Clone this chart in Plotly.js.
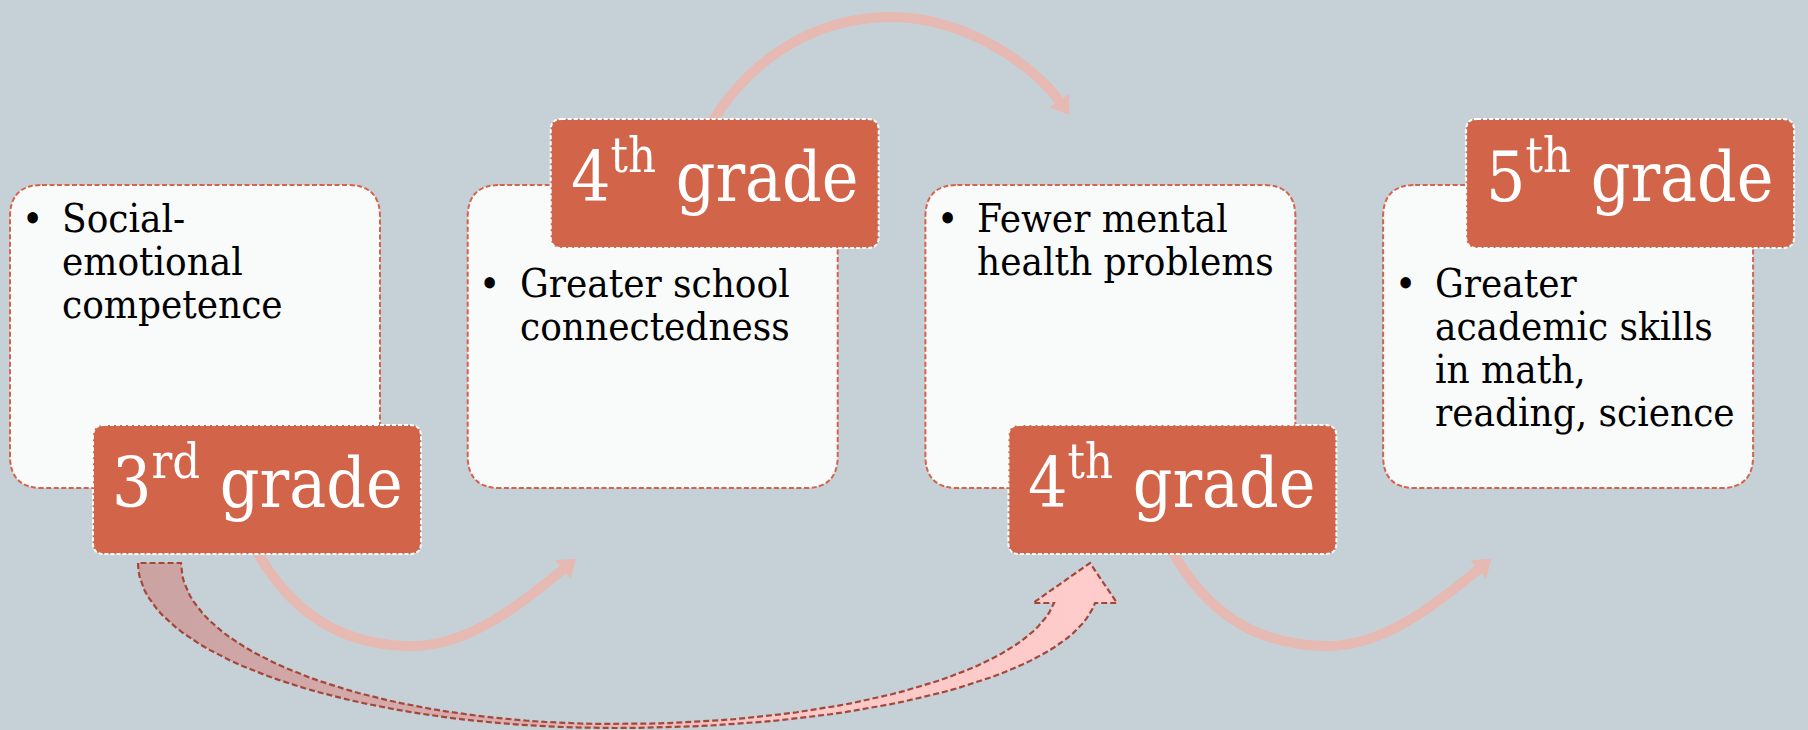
<!DOCTYPE html>
<html><head><meta charset="utf-8">
<script src="https://cdn.plot.ly/plotly-3.0.1.min.js"></script>
<style>html,body{margin:0;padding:0;background:#C5D1D7;overflow:hidden;}</style>
</head><body><div id="chart" style="width:1808px;height:730px;"></div>
<script>
// ---- content ----
const grades = ['3<sup>rd</sup> grade', '4<sup>th</sup> grade', '4<sup>th</sup> grade', '5<sup>th</sup> grade'];
const outcomes = [
  ['Social-', 'emotional', 'competence'],
  ['Greater school', 'connectedness'],
  ['Fewer mental', 'health problems'],
  ['Greater', 'academic skills', 'in math,', 'reading, science']
];
const labelOnTop = [false, true, false, true];

// ---- styling / geometry ----
const W = 1808, H = 730;
const BG = '#C5D1D7';
const BOX_X0 = 10, BOX_STEP = 457.7, BOX_W = 370, BOX_TOP = 185, BOX_BOT = 488, BOX_R = 32;
const LBL_DX = 83, LBL_W = 328, LBL_H = 129, LBL_R = 11;
const LBL_TOP_Y0 = 119, LBL_BOT_Y0 = 425;
const BODY_FS = 40, LBL_FS = 69, LINE_STEP = 43;
const FONT = 'DejaVu Serif Condensed, DejaVu Serif, serif';
const ARC_COLOR = '#E6B9B2';

function rr(x0, y0, x1, y1, r) {
  return `M${x0 + r},${y0} H${x1 - r} Q${x1},${y0} ${x1},${y0 + r} V${y1 - r} Q${x1},${y1} ${x1 - r},${y1} ` +
         `H${x0 + r} Q${x0},${y1} ${x0},${y1 - r} V${y0 + r} Q${x0},${y0} ${x0 + r},${y0} Z`;
}
function cubicPts(p0, p1, p2, p3, n) {
  const pts = [];
  for (let i = 0; i <= n; i++) {
    const t = i / n, u = 1 - t;
    pts.push([u*u*u*p0[0] + 3*u*u*t*p1[0] + 3*u*t*t*p2[0] + t*t*t*p3[0],
              u*u*u*p0[1] + 3*u*u*t*p1[1] + 3*u*t*t*p2[1] + t*t*t*p3[1]]);
  }
  return pts;
}
function arcShape(segs, ox, oy) {
  let d = `M${ox + segs[0][0]},${oy + segs[0][1]}`;
  for (let i = 1; i < segs.length; i += 3) {
    d += ` C${ox + segs[i][0]},${oy + segs[i][1]} ${ox + segs[i+1][0]},${oy + segs[i+1][1]} ${ox + segs[i+2][0]},${oy + segs[i+2][1]}`;
  }
  return d;
}
function arrowHead(from, to, ox, oy, len, half) {
  const dx = to[0] - from[0], dy = to[1] - from[1], L = Math.hypot(dx, dy);
  const ux = dx / L, uy = dy / L, px = -uy, py = ux;
  const ex = ox + to[0], ey = oy + to[1];
  const tip = [ex + ux * len, ey + uy * len];
  const a = [ex + px * half - ux * 4, ey + py * half - uy * 4];
  const b = [ex - px * half - ux * 4, ey - py * half - uy * 4];
  return `M${a[0]},${a[1]} L${tip[0]},${tip[1]} L${b[0]},${b[1]} Z`;
}

const shapes = [];
const annotations = [];

// light curved connector arrows (drawn first, below boxes)
const lowArc = [[-2, -6], [38, 67], [93, 92], [156, 92], [213, 92], [268, 47], [309, 13]];
const topArc = [[-10, 16], [30, -59], [100, -102], [176, -102], [250, -102], [320, -54], [347, -15]];
for (let i = 0; i < grades.length - 1; i++) {
  const lx = BOX_X0 + i * BOX_STEP + LBL_DX + LBL_W / 2;
  const segs = labelOnTop[i] ? topArc : lowArc;
  const oy = labelOnTop[i] ? LBL_TOP_Y0 : LBL_BOT_Y0 + LBL_H;
  shapes.push({type: 'path', path: arcShape(segs, lx, oy), line: {color: ARC_COLOR, width: 10}, layer: 'above'});
  shapes.push({type: 'path', path: arrowHead(segs[5], segs[6], lx, oy, 13, 12),
               fillcolor: ARC_COLOR, line: {width: 0}, layer: 'above'});
}

// boxes + labels
for (let i = 0; i < grades.length; i++) {
  const x0 = BOX_X0 + i * BOX_STEP, x1 = x0 + BOX_W;
  shapes.push({type: 'path', path: rr(x0, BOX_TOP, x1, BOX_BOT, BOX_R), fillcolor: '#F9FAFA',
               line: {color: '#D4634B', width: 2, dash: '5px,2.5px'}, layer: 'above'});
  const lx0 = x0 + LBL_DX, ly0 = labelOnTop[i] ? LBL_TOP_Y0 : LBL_BOT_Y0;
  shapes.push({type: 'path', path: rr(lx0, ly0, lx0 + LBL_W, ly0 + LBL_H, LBL_R), fillcolor: '#D2644A',
               line: {color: '#FFFFFF', width: 2, dash: '4px,2px'}, layer: 'above'});
  annotations.push({x: lx0 + LBL_W / 2, y: ly0 + LBL_H - 42 - 0.5 * LBL_FS, xref: 'x', yref: 'y',
                    text: grades[i], showarrow: false, xanchor: 'center', yanchor: 'middle',
                    font: {family: FONT, size: LBL_FS, color: '#FFFFFF'}});
  const firstBase = labelOnTop[i] ? BOX_TOP + 112 : BOX_TOP + 47;
  annotations.push({x: x0 + 22, y: firstBase - 0.345 * BODY_FS, xref: 'x', yref: 'y', text: '•',
                    showarrow: false, xanchor: 'center', yanchor: 'middle',
                    font: {family: FONT, size: BODY_FS, color: '#000000'}});
  outcomes[i].forEach((line, k) => {
    annotations.push({x: x0 + 50, y: firstBase + k * LINE_STEP - 0.345 * BODY_FS, xref: 'x', yref: 'y',
                      text: line, showarrow: false, xanchor: 'left', yanchor: 'middle',
                      font: {family: FONT, size: BODY_FS, color: '#000000'}});
  });
}

// big curved arrow (3rd grade -> 4th grade mental health)
const outerL = cubicPts([138, 563], [138, 654], [352, 728], [615, 728], 40);
const outerR = cubicPts([615, 728], [879, 728], [1070, 673], [1095, 603], 40);
const head = [[1117, 603], [1090, 563], [1033, 603], [1054, 603]];
const innerR = cubicPts([1054, 603], [1029, 668], [856, 724], [615, 724], 40);
const innerL = cubicPts([615, 724], [375, 724], [181, 652], [181, 563], 40);
const poly = [].concat(outerL, outerR.slice(1), head, innerR.slice(1), innerL.slice(1), [[138, 563]]);

const traces = [{
  x: poly.map(p => p[0]), y: poly.map(p => p[1]), type: 'scatter', mode: 'lines',
  fill: 'toself',
  fillgradient: {type: 'horizontal', start: 138, stop: 1117,
                 colorscale: [[0, '#CBA3A3'], [0.35, '#D8ACAC'], [0.65, '#FBC8C8'], [1, '#FFCCCC']]},
  line: {color: '#A4473A', width: 2.2, dash: '6px,3px'},
  hoverinfo: 'skip', showlegend: false
}];

const layout = {
  width: W, height: H, margin: {l: 0, r: 0, t: 0, b: 0},
  paper_bgcolor: BG, plot_bgcolor: BG,
  xaxis: {range: [0, W], visible: false, fixedrange: true},
  yaxis: {range: [H, 0], visible: false, fixedrange: true},
  shapes: shapes, annotations: annotations, showlegend: false
};
Plotly.newPlot('chart', traces, layout, {staticPlot: true, displayModeBar: false});
</script></body></html>
